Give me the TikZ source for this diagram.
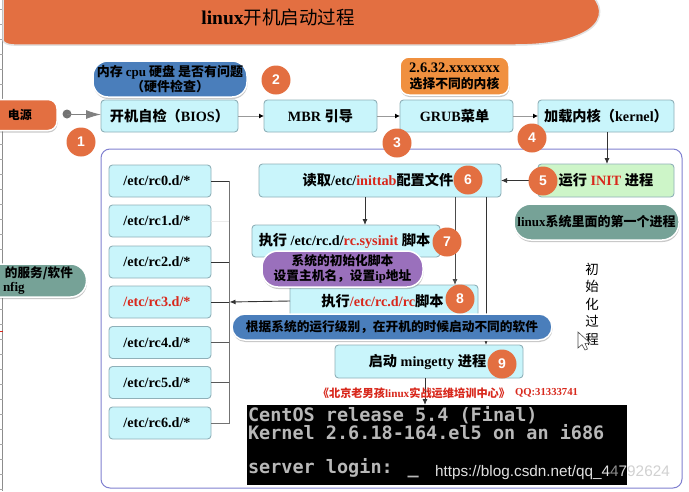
\documentclass[tikz,border=0pt]{standalone}
\usepackage{fontspec}
\usetikzlibrary{shadows,arrows.meta,calc}
\setmainfont{Liberation Serif}
\setsansfont{Liberation Sans}
\newfontfamily\cj{Noto Sans CJK SC}
\newfontfamily\vga{DejaVu Sans Mono}
\definecolor{boxfill}{HTML}{C9F5FB}
\definecolor{boxedge}{HTML}{8FB0B8}
\definecolor{orangeA}{HTML}{E36F41}
\definecolor{orangeB}{HTML}{F0903F}
\definecolor{blueA}{HTML}{4A7EBB}
\definecolor{purpleA}{HTML}{9A70BC}
\definecolor{tealA}{HTML}{76A297}
\definecolor{greenA}{HTML}{CDF5C8}
\definecolor{frameC}{HTML}{8080D0}
\definecolor{redT}{HTML}{D8281C}
\tikzset{
  base/.style={inner sep=0pt,outer sep=0pt,align=center,font=\bfseries\fontsize{14.2}{16}\selectfont},
  bx/.style={base,draw=boxedge,fill=boxfill,line width=0.9pt,rounded corners=3.5pt},
  gbx/.style={bx,fill=greenA},
  note/.style={base,draw=white,line width=1.5pt,rounded corners=#1,
     drop shadow={shadow xshift=0.5pt,shadow yshift=-2pt,opacity=.35,fill=black!60}},
  note/.default=15pt,
  num/.style={circle,fill=orangeA,text=white,minimum size=29pt,inner sep=0pt,outer sep=0pt,font=\sffamily\bfseries\fontsize{14}{14}\selectfont},
  link/.style={line width=0.9pt,black!80},
  flow/.style={link,-{Latex[length=6pt,width=5pt]}},
  gflow/.style={line width=0.9pt,black!40},
  lbl/.style={inner sep=0pt,outer sep=0pt,align=center},
  term/.style={lbl,anchor=west,text=black!28,font=\vga\bfseries\fontsize{18.5}{20}\selectfont}
}
\newcommand{\rd}[1]{\textcolor{redT}{#1}}
\begin{document}
\begin{tikzpicture}[x=1pt,y=-1pt]
\useasboundingbox (0,0) rectangle (689,491);
\fill[white] (0,0) rectangle (689,491);
% spreadsheet edge
\draw[black!45,line width=0.8pt] (2.5,0) -- (2.5,491);
\foreach \yy in {9,24,39,54,69,84,99,114,129,144,159,174,189,204,219,234,249,264,279,294,309,324,339,354,369,384,399,414,429,444,459,474,489}
  \draw[black!35,line width=0.5pt] (0,\yy) -- (2.5,\yy);
\draw[redT,line width=0.6pt] (0,331) -- (2.5,331);
% title
\draw[draw=black!12,line width=1.5pt,fill=orangeA] (3,-3) -- (593,-3) .. controls (604,8) and (602,24) .. (583,33) .. controls (568,41) and (545,45) .. (515,45) -- (14,45) .. controls (8,45) and (3,43) .. (3,40) -- cycle;
\node[lbl,font=\bfseries\fontsize{19.5}{20}\selectfont] (title) at (278,17) {linux{\cj\mdseries\fontsize{18.5}{20}\selectfont 开机启动过程}};
% frame
\node[draw=frameC,line width=1pt,rounded corners=9pt,minimum width=581pt,minimum height=339pt,inner sep=0pt,outer sep=0pt,fill=white] (frame) at (391.5,318.5) {};
% top row
\node[note=9pt,fill=orangeA,minimum width=100pt,minimum height=31pt,font=\bfseries\fontsize{12}{14}\selectfont] (power) at (7,115) {\hspace*{26pt}{\cj 电源}};
\node[bx,minimum width=137pt,minimum height=32pt] (bios) at (169.5,116) {\cj 开机自检（\textrm{\bfseries BIOS}）};
\node[bx,minimum width=113pt,minimum height=32pt] (mbr) at (320.5,116) {MBR {\cj 引导}};
\node[bx,minimum width=113pt,minimum height=32pt] (grub) at (456.5,116) {\hspace*{-4pt}GRUB{\cj 菜单}};
\node[bx,minimum width=136pt,minimum height=32pt] (kernel) at (606,116) {\cj 加载内核（\textrm{\bfseries kernel}）};
% rc boxes
\foreach \nm/\yy/\tx in {rcz/181/{/etc/rc0.d/*},rca/221/{/etc/rc1.d/*},rcb/262/{/etc/rc2.d/*},rcc/302/{\rd{/etc/rc3.d/*}},rcd/342.5/{/etc/rc4.d/*},rce/382.5/{/etc/rc5.d/*},rcf/423/{/etc/rc6.d/*}}
  \node[bx,minimum width=102pt,minimum height=32pt] (\nm) at (160,\yy) {\hspace*{-6pt}\tx};
% init column
\node[bx,minimum width=242pt,minimum height=33pt] (read) at (380,180.5) {\hspace*{-4pt}{\cj 读取}/etc/\rd{inittab}{\cj 配置文件}};
\node[gbx,minimum width=136pt,minimum height=33pt] (init) at (606,180.5) {{\cj 运行} \rd{INIT} {\cj 进程}};
\node[bx,minimum width=188pt,minimum height=32pt] (sys) at (346,241) {\hspace*{-3pt}{\cj 执行} /etc/rc.d/\rd{rc.sysinit} {\cj 脚本}};
\node[bx,minimum width=188pt,minimum height=32pt] (rcs) at (384,301) {\hspace*{-3pt}{\cj 执行}\rd{/etc/rc.d/rc}{\cj 脚本}};
\node[bx,minimum width=188pt,minimum height=33pt] (ming) at (429,361.5) {\hspace*{-3pt}{\cj 启动} mingetty {\cj 进程}};
\node[fill=black,inner sep=0pt,outer sep=0pt,minimum width=380pt,minimum height=80pt] (tty) at (437,445) {};
% connectors
\fill[black!55] (67,114) circle (4.5pt);
\coordinate (pdot) at (67,114.5);
\draw[line width=1pt,black!50,-{Latex[length=15pt,width=9pt]}] (pdot) -- (pdot -| bios.west);
\draw[gflow,-{Latex[length=5pt,width=5pt,black]}] (bios) -- (mbr);
\draw[gflow,-{Latex[length=5pt,width=5pt,black]}] (mbr) -- (grub);
\draw[gflow,-{Latex[length=5pt,width=5pt,black]}] (grub) -- (kernel);
\draw[flow] ([xshift=1pt]kernel.south) -- ([xshift=1pt]init.north);
\draw[flow] (init) -- (read);
\draw[flow] ([xshift=-15pt]read.south) -- ([xshift=-15pt]read.south |- sys.north);
\draw[flow,black!70] ([xshift=75pt]read.south) -- ([xshift=75pt]read.south |- rcs.north);
\draw[flow] ([xshift=106pt]read.south) -- ([xshift=106pt]read.south |- ming.north);
\coordinate (bus) at (229.5,302);
\draw[link] (rcz.east) -- (bus |- rcz.east);
\draw[black!8,line width=0.6pt] (rca.east) -- (bus |- rca.east);
\draw[link] (rcb.east) -- (bus |- rcb.east);
\draw[link] (rcc.east) -- (bus);
\draw[link,black!65] (rcd.east) -- (bus |- rcd.east);
\draw[link,black!65] (rce.east) -- (bus |- rce.east);
\draw[link,black!55] (rcf.east) -- (bus |- rcf.east) -- (bus |- rcz.east);
\draw[flow] (rcs.west) -- (bus);
\draw[flow] ([xshift=-4pt]ming.south) -- ([xshift=-4pt]ming.south |- tty.north);
% notes
\node[note=15pt,fill=blueA,minimum width=154pt,minimum height=36pt,font=\bfseries\fontsize{13}{15}\selectfont] (hw) at (170,79) {\cj 内存 \textrm{\bfseries cpu} 硬盘 是否有问题\\\cj （硬件检查）};
\node[note=9pt,fill=orangeB,minimum width=109pt,minimum height=38pt,font=\bfseries\fontsize{14.5}{16}\selectfont] (kn) at (454.5,76) {2.6.32.xxxxxxx\\{\cj\fontsize{12.8}{15}\selectfont 选择不同的内核}};
\node[note=17pt,fill=tealA,minimum width=165pt,minimum height=36pt,font=\bfseries\fontsize{13}{15}\selectfont] (first) at (596.5,222) {linux{\cj 系统里面的第一个进程}};
\node[note=16pt,fill=purpleA,minimum width=161pt,minimum height=36pt,font=\bfseries\fontsize{12.7}{14.5}\selectfont] (pu) at (342.5,269) {\cj 系统的初始化脚本\\\cj 设置主机名，设置\textrm{\bfseries ip}地址};
\node[note=13pt,fill=blueA,minimum width=320pt,minimum height=26pt,font=\bfseries\fontsize{12.7}{14}\selectfont] (lv) at (392,327) {\cj 根据系统的运行级别，在开机的时候启动不同的软件};
\node[note=16pt,fill=tealA,minimum width=117pt,minimum height=33pt] (svc) at (28,280.5) {};
\node[lbl,font=\bfseries\fontsize{12.6}{14}\selectfont,anchor=west] (svca) at (5,273) {\cj 的服务/软件};
\node[lbl,font=\bfseries\fontsize{13}{14}\selectfont,anchor=west] (svcb) at (3,288) {nfig};
% numbers
\node[num] (n1) at (81,142) {1};
\node[num] (n2) at (276,80) {2};
\node[num] (n3) at (397,143) {3};
\node[num] (n4) at (532,138) {4};
\node[num] (n5) at (543,181) {5};
\node[num] (n6) at (468,180) {6};
\node[num] (n7) at (447,242) {7};
\node[num] (n8) at (460,299) {8};
\node[num] (n9) at (502,364) {9};
% side text
\node[lbl,font=\fontsize{13.5}{17.5}\selectfont] (side) at (592,304) {\cj 初\\\cj 始\\\cj 化\\\cj 过\\\cj 程};
% cursor
\draw[black!70,fill=white,line width=0.6pt] (578,332) -- (578,348) -- (582,344.5) -- (585,350) -- (587.5,349) -- (585,343.5) -- (590,343) -- cycle;
% red credit
\node[lbl,text=redT,font=\bfseries\fontsize{11.2}{12}\selectfont] (cr) at (414,393) {\cj 《北京老男孩\textrm{\bfseries linux}实战运维培训中心》};
\node[lbl,text=redT,font=\bfseries\fontsize{10.7}{12}\selectfont,anchor=west] (qq) at (515,393) {QQ:31333741};
% terminal
\node[term] (t1) at (248,415) {CentOS release 5.4 (Final)};
\node[term] (t2) at (248,432) {Kernel 2.6.18-164.el5 on an i686};
\node[term] (t3) at (248,468) {server login: \_};
\node[lbl,anchor=west,font=\sffamily\fontsize{15.3}{16}\selectfont,text=black!12] (wm) at (435,473) {https://blog.csdn.net/qq\_4\textcolor{black!45}{4}\textcolor{black!18}{792624}};
\end{tikzpicture}
\end{document}
